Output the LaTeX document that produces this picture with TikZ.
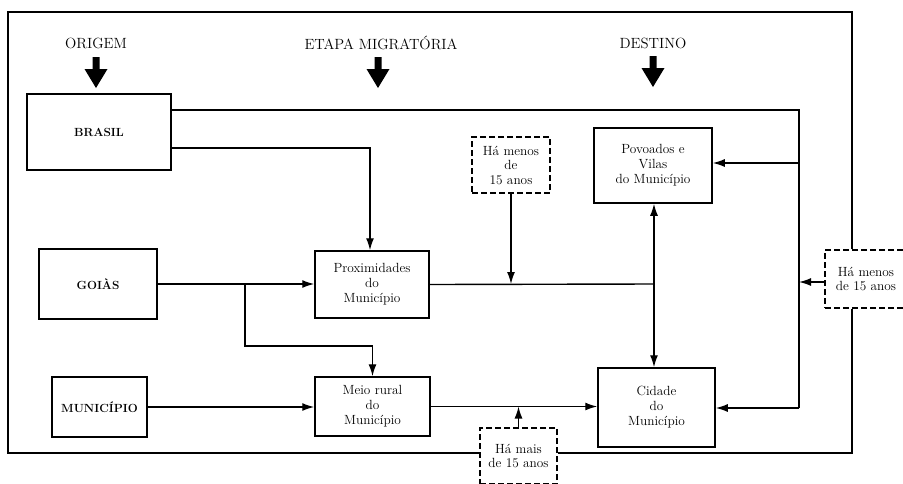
\documentclass[tikz,border=0pt]{standalone}
\usepackage{fontspec}
\usetikzlibrary{arrows.meta}
\begin{document}
\begin{tikzpicture}[x=1pt,y=-1pt,
  box/.style={draw, line width=1.5pt, align=center, inner sep=0pt,
    font=\fontsize{13.3}{15}\selectfont},
  origbox/.style={box, font=\bfseries\fontsize{11.8}{14}\selectfont},
  note/.style={draw, line width=1.3pt, dash pattern=on 6pt off 3pt,
    align=center, inner sep=0pt, font=\fontsize{13.3}{14.5}\selectfont},
  heading/.style={inner sep=0pt, font=\fontsize{14.8}{17}\selectfont},
  conn/.style={line width=1.4pt},
  arr/.style={conn, -{Latex[length=12pt,width=8pt]}},
  frame/.style={line width=1.6pt},
  bigarrow/.pic={\fill (-3.5,0) -- (3.5,0) -- (3.5,12) -- (11.5,12) -- (0,31)
     -- (-11.5,12) -- (-3.5,12) -- cycle;}
]
\useasboundingbox (0,0) rectangle (903,483);

% headings
\node[heading] (origem) at (96,43) {ORIGEM};
\node[heading] (etapa) at (381,43) {ETAPA MIGRATÓRIA};
\node[heading] (destino) at (653,43) {DESTINO};
\pic at (96,57) {bigarrow};
\pic at (378,57) {bigarrow};
\pic at (653,56) {bigarrow};

% origin boxes
\node[origbox, minimum width=144pt, minimum height=76pt] (brasil) at (99,132) {BRASIL};
\node[origbox, minimum width=118pt, minimum height=70pt] (goias) at (98,284) {GOIÀS};
\node[origbox, minimum width=95pt, minimum height=60pt] (municipio) at (99.5,407) {MUNICÍPIO};

% intermediate boxes
\node[box, minimum width=114pt, minimum height=67pt] (prox) at (372,284.5) {Proximidades\\do\\Município};
\node[box, minimum width=115pt, minimum height=59pt] (meio) at (372.5,406.5) {Meio rural\\do\\Município};

% destination boxes
\node[box, minimum width=118pt, minimum height=75pt] (povoados) at (653,165.5) {Povoados e\\Vilas\\do Município};
\node[box, minimum width=117pt, minimum height=79pt] (cidade) at (656.5,407.5) {Cidade\\do\\Município};

% dashed notes
\node[note, minimum width=78pt, minimum height=56pt] (unote) at (511,165) {Há menos\\de\\15 anos};
\node[note, minimum width=82pt, minimum height=58pt] (rnote) at (866,279) {Há menos\\de 15 anos};
\node[note, minimum width=77pt, minimum height=56pt] (lnote) at (518.5,456) {Há mais\\de 15 anos};

% routing coordinates
\coordinate (ne) at (799,110);
\coordinate (se) at (799,408);
\coordinate (b2) at (370,148);
\coordinate (g1) at (245,284);
\coordinate (g2) at (245,346);
\coordinate (j) at (654,284);
\coordinate (tl) at (8,12);
\coordinate (tr) at (852,12);
\coordinate (br) at (852,453);
\coordinate (bl) at (8,453);

% inner loop from Brasil
\draw[conn] (brasil.east |- ne) -- (ne) -- (se);
\draw[arr] (se) -- (cidade.east |- se);
\draw[arr] (ne |- 0,163) -- (povoados.east |- 0,163);
\draw[arr] ([yshift=-3pt]rnote.west) -- ([yshift=-3pt]rnote.west -| ne);

% Brasil to Proximidades
\draw[arr] (brasil.east |- b2) -- (b2) -- (b2 |- prox.north);

% Goias
\draw[arr] (goias.east) -- (goias.east -| prox.west);
\draw[arr] (g1) -- (g2) -- (g2 -| meio.north) -- (meio.north);

% Municipio
\draw[arr] (municipio.east) -- (municipio.east -| meio.west);

% Proximidades to junction
\draw[conn] (prox.east) -- (j);
\draw[arr] (j) -- (j |- povoados.south);
\draw[arr] (j) -- (j |- cidade.north);
\draw[arr] (unote.south) -- (unote.south |- j);

% Meio rural to Cidade
\draw[arr] (meio.east) -- (meio.east -| cidade.west);
\draw[arr] (lnote.north) -- (lnote.north |- meio.east);

% outer frame
\draw[frame] (rnote.north -| tr) -- (tr) -- (tl) -- (bl) -- (bl -| lnote.west);
\draw[frame] (lnote.east |- br) -- (br) -- (rnote.south -| br);
\end{tikzpicture}
\end{document}
